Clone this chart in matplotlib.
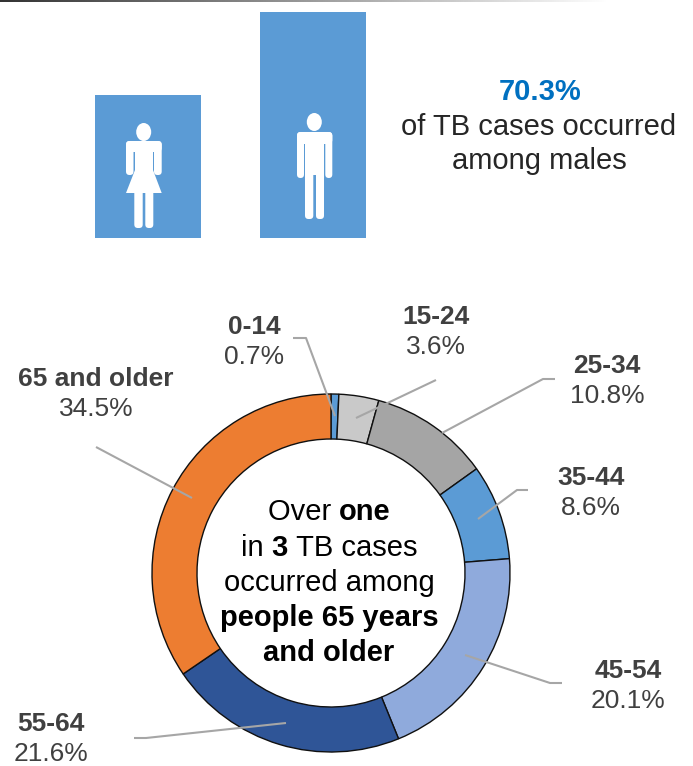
import matplotlib

matplotlib.use("Agg")
import matplotlib.pyplot as plt
import numpy as np
from matplotlib.patches import Ellipse, FancyBboxPatch, Polygon

plt.rcParams["font.family"] = ["Liberation Sans", "DejaVu Sans"]

W, H = 693, 766

# age groups
ages = ["0-14", "15-24", "25-34", "35-44", "45-54", "55-64", "65 and older"]
shares = [0.7, 3.6, 10.8, 8.6, 20.1, 21.6, 34.5]
colors = ["#5B9BD5", "#C9C9C9", "#A5A5A5", "#5B9BD5", "#8FAADC", "#2F5597", "#ED7D31"]
label_pos = [(254, 340), (436, 330), (607, 379), (591, 491), (628, 684), (51, 737), (96, 392)]
leaders = [
    [(293, 338), (306, 338), (335, 416)],
    [(436, 380), (356, 418)],
    [(555, 379), (543, 379), (442, 433)],
    [(528, 490), (517, 490), (478, 519)],
    [(562, 683), (550, 683), (465, 655)],
    [(134, 738), (146, 738), (286, 723)],
    [(96, 447), (192, 498)],
]

# the two sex bars, heights as drawn
bar_x = [148, 312.5]
bar_heights = [143, 226]
bar_width = 106

fig = plt.figure(figsize=(W / 100, H / 100), dpi=100)

# donut
cx, cy, r = 331, 573, 179
ax_pie = fig.add_axes([(cx - r) / W, 1 - (cy + r) / H, 2 * r / W, 2 * r / H])
ax_pie.pie(
    shares,
    colors=colors,
    startangle=90,
    counterclock=False,
    radius=1,
    wedgeprops=dict(width=1 - 134 / 179, edgecolor="#101010", linewidth=1),
)
ax_pie.set_xlim(-1, 1)
ax_pie.set_ylim(-1, 1)

# everything else in pixel coordinates
ax = fig.add_axes([0, 0, 1, 1], facecolor="none")
ax.axis("off")

# rule on top, fades out to the right
grad = np.linspace(0.2, 1, 256).reshape(1, -1)
ax.imshow(grad, extent=(0, 610, 1.6, 0), cmap="gray", vmin=0, vmax=1, aspect="auto")
ax.set_xlim(0, W)
ax.set_ylim(H, 0)

ax.bar(bar_x, bar_heights, width=bar_width, bottom=[238 - h for h in bar_heights], color="#5B9BD5")


def rbox(x0, y0, x1, y1, rad=2.5, color="white"):
    ax.add_patch(
        FancyBboxPatch(
            (x0 + rad, y0 + rad),
            x1 - x0 - 2 * rad,
            y1 - y0 - 2 * rad,
            boxstyle="round,pad=%f,rounding_size=%f" % (rad, rad),
            fc=color,
            ec="none",
        )
    )


# woman
ax.add_patch(Ellipse((143.7, 132), 15, 18, fc="white", ec="none"))
rbox(126, 141, 133.5, 175, 3.5)
rbox(154, 141, 161.7, 175, 3.5)
rbox(126, 141, 161.7, 152, 4)
ax.add_patch(
    Polygon([(135, 145), (153, 145), (153, 170), (161.7, 193), (126, 193), (135, 170)], fc="white", ec="none")
)
rbox(134.3, 188, 142.7, 228, 3.5)
rbox(145.3, 188, 153.3, 228, 3.5)

# man
ax.add_patch(Ellipse((314.3, 122), 15, 18, fc="white", ec="none"))
rbox(297, 132, 304, 178, 3.5)
rbox(325.3, 132, 332.3, 178, 3.5)
rbox(297, 132, 332.3, 144, 4)
ax.add_patch(Polygon([(305.2, 140), (324, 140), (324, 175), (305.2, 175)], fc="white", ec="none"))
rbox(305, 170, 313.3, 219, 3.5)
rbox(316, 170, 324, 219, 3.5)

# sex text
ax.text(540, 92, "70.3%", color="#0070C0", fontsize=21, fontweight="bold", ha="center", va="center")
ax.text(539, 127, "of TB cases occurred", color="#262626", fontsize=21, ha="center", va="center")
ax.text(539, 161, "among males", color="#262626", fontsize=21, ha="center", va="center")

# leader lines and labels
for pts in leaders:
    xs, ys = zip(*pts)
    ax.plot(xs, ys, color="#A6A6A6", lw=1.5, solid_capstyle="butt")
for age, share, (x, y) in zip(ages, shares, label_pos):
    ax.text(x, y - 13, age, color="#404040", fontsize=19, fontweight="bold", ha="center", va="center")
    ax.text(x, y + 17, "%.1f%%" % share, color="#404040", fontsize=19, ha="center", va="center")


# centre text, lines with bold parts
center_lines = [
    (512, [("Over ", "normal"), ("one", "bold")]),
    (548, [("in ", "normal"), ("3", "bold"), (" TB cases", "normal")]),
    (583, [("occurred among", "normal")]),
    (618, [("people 65 years", "bold")]),
    (653, [("and older", "bold")]),
]
fig.canvas.draw()
renderer = fig.canvas.get_renderer()
for y, parts in center_lines:
    items = []
    for s, weight in parts:
        # keep spaces in the measure
        t = ax.text(0, y, s.replace(" ", "\u00a0"), color="black", fontsize=21, fontweight=weight, va="center")
        items.append((t, t.get_window_extent(renderer).width))
    x = cx - 2 - sum(w for _, w in items) / 2
    for t, w in items:
        t.set_x(x)
        x += w

fig.savefig("out.png", dpi=100)
